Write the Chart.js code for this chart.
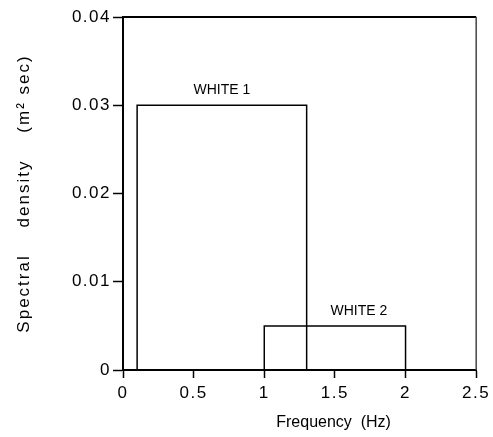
<!DOCTYPE html>
<html>
<head>
<meta charset="utf-8">
<script src="https://cdn.jsdelivr.net/npm/chart.js@4/dist/chart.umd.min.js"></script>
<style>
  html, body { margin: 0; padding: 0; background: #fff; }
  #wrap { width: 493px; height: 437px; }
</style>
</head>
<body>
<div id="wrap"><canvas id="spec" width="493" height="437"></canvas></div>
<script>
// axis ticks
const xTicks = [0, 0.5, 1, 1.5, 2, 2.5];
const xTickLabels = ['0', '0.5', '1', '1.5', '2', '2.5'];
const yTicks = [0, 0.01, 0.02, 0.03, 0.04];
const yTickLabels = ['0', '0.01', '0.02', '0.03', '0.04'];

// white-noise bands: frequency limits (Hz) and level (m^2 sec)
const bandNames = ['WHITE 1', 'WHITE 2'];
const bandLow = [0.1, 1.0];
const bandHigh = [1.3, 2.0];
const bandLevel = [0.03, 0.005];
const bandLabelX = [0.7, 1.67];

const FONT = '"Liberation Sans", Arial, sans-serif';

// each band is an open box standing on the frequency axis
const datasets = bandNames.map((name, i) => ({
    label: name,
    data: [
        { x: bandLow[i], y: 0 },
        { x: bandLow[i], y: bandLevel[i] },
        { x: bandHigh[i], y: bandLevel[i] },
        { x: bandHigh[i], y: 0 }
    ],
    showLine: true,
    borderColor: '#000',
    borderWidth: 1.5,
    pointRadius: 0,
    tension: 0,
    fill: false
}));

// looser letter spacing for the tick labels
const spacing = {
    id: 'spacing',
    beforeDraw(chart) { chart.ctx.letterSpacing = '1.5px'; },
    afterDraw(chart) { chart.ctx.letterSpacing = '0px'; }
};

// frame, band names and axis titles
const decor = {
    id: 'decor',
    afterDraw(chart) {
        const { ctx, chartArea: a, scales: { x, y } } = chart;
        ctx.save();
        ctx.letterSpacing = '0px';
        ctx.strokeStyle = '#000';
        ctx.lineWidth = 2;
        ctx.beginPath();
        ctx.moveTo(a.left, a.top);
        ctx.lineTo(a.right, a.top);
        ctx.stroke();
        ctx.strokeStyle = '#444';
        ctx.lineWidth = 1.5;
        ctx.beginPath();
        ctx.moveTo(a.right, a.top);
        ctx.lineTo(a.right, a.bottom);
        ctx.stroke();

        ctx.fillStyle = '#000';
        ctx.font = '14px ' + FONT;
        ctx.textAlign = 'center';
        ctx.textBaseline = 'middle';
        bandNames.forEach((name, i) => {
            ctx.fillText(name, x.getPixelForValue(bandLabelX[i]), y.getPixelForValue(bandLevel[i]) - 15);
        });

        ctx.font = '16px ' + FONT;
        ctx.letterSpacing = '0px';
        ctx.fillText('Frequency  (Hz)', (a.left + a.right) / 2 + 34, a.bottom + 53);

        ctx.translate(24, (a.top + a.bottom) / 2);
        ctx.rotate(-Math.PI / 2);
        ctx.font = '17px ' + FONT;
        ctx.letterSpacing = '2px';
        ctx.fillText('Spectral    density    (m\u00B2 sec)', 0, 0);
        ctx.restore();
    }
};

const chart = new Chart(document.getElementById('spec'), {
    type: 'scatter',
    data: { datasets },
    options: {
        responsive: false,
        animation: false,
        layout: { padding: { top: 17, right: 15, left: 0, bottom: 0 } },
        plugins: { legend: { display: false }, tooltip: { enabled: false } },
        scales: {
            x: {
                type: 'linear',
                min: 0,
                max: 2.5,
                afterBuildTicks: s => { s.ticks = xTicks.map(v => ({ value: v })); },
                afterFit: s => { s.height = 67; },
                ticks: {
                    color: '#000',
                    padding: 5,
                    maxRotation: 0,
                    font: { family: FONT, size: 17 },
                    callback: (v, i) => xTickLabels[i]
                },
                grid: { drawOnChartArea: false, drawTicks: true, tickLength: 8, tickColor: '#000', tickWidth: 1.5 },
                border: { color: '#000', width: 2 }
            },
            y: {
                type: 'linear',
                min: 0,
                max: 0.04,
                afterBuildTicks: s => { s.ticks = yTicks.map(v => ({ value: v })); },
                afterFit: s => { s.width = 123; },
                ticks: {
                    color: '#000',
                    padding: 2,
                    font: { family: FONT, size: 17 },
                    callback: (v, i) => yTickLabels[i]
                },
                grid: { drawOnChartArea: false, drawTicks: true, tickLength: 10, tickColor: '#000', tickWidth: 1.5 },
                border: { color: '#000', width: 2 }
            }
        }
    },
    plugins: [spacing, decor]
});
</script>
</body>
</html>
